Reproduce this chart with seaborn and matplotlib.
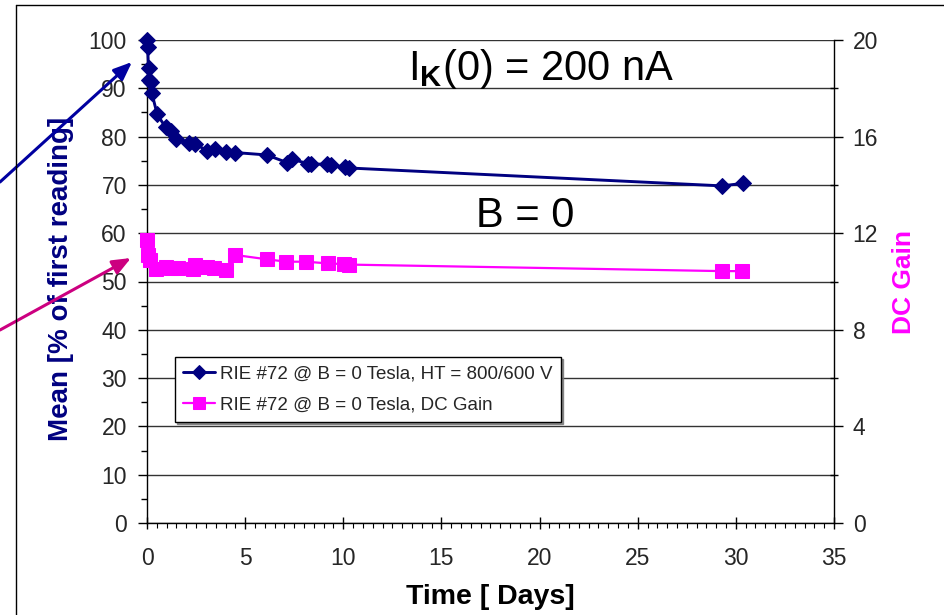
import matplotlib
matplotlib.use("Agg")
import matplotlib.pyplot as plt
import seaborn as sns
import numpy as np
from matplotlib.lines import Line2D
from matplotlib.ticker import MultipleLocator

# ---- data ----
days_mean = [0.0, 0.03, 0.08, 0.12, 0.18, 0.24, 0.52, 0.95, 1.2, 1.48, 2.15, 2.45,
             3.05, 3.45, 4.0, 4.48, 6.1, 7.15, 7.4, 8.2, 8.35, 9.18, 9.35, 10.1, 10.3,
             29.28, 30.35]
mean_pct = [100.0, 98.6, 94.1, 91.8, 91.3, 89.1, 84.6, 81.9, 81.2, 79.5, 78.7, 78.5,
            77.1, 77.4, 76.9, 76.7, 76.2, 74.6, 75.3, 74.4, 74.3, 74.3, 74.1, 73.7, 73.5,
            69.8, 70.3]

days_gain = [0.0, 0.05, 0.15, 0.45, 0.95, 1.2, 1.6, 2.35, 2.45, 3.05, 3.4, 4.0, 4.48,
             6.1, 7.1, 8.1, 9.2, 10.05, 10.3, 29.3, 30.3]
dc_gain = [11.72, 11.1, 10.9, 10.5, 10.6, 10.57, 10.55, 10.5, 10.68, 10.6, 10.57, 10.48,
           11.1, 10.92, 10.82, 10.82, 10.75, 10.72, 10.7, 10.43, 10.43]

label_mean = "RIE #72 @ B = 0 Tesla, HT = 800/600 V"
label_gain = "RIE #72 @ B = 0 Tesla, DC Gain"

x_ticks = [0, 5, 10, 15, 20, 25, 30, 35]
y_left_ticks = [0, 10, 20, 30, 40, 50, 60, 70, 80, 90, 100]
y_right_ticks = [0, 4, 8, 12, 16, 20]

NAVY = "#000080"
MAGENTA = "#FF00FF"

sns.set_style("white")
plt.rcParams["font.family"] = ["Liberation Sans", "DejaVu Sans"]
plt.rcParams["mathtext.fontset"] = "custom"
plt.rcParams["mathtext.rm"] = "Liberation Sans"
plt.rcParams["mathtext.bf"] = "Liberation Sans:bold"

W, H = 944, 615
fig = plt.figure(figsize=(W / 100, H / 100), dpi=100)
L, R, T, B = 147, 834, 40, 523
ax = fig.add_axes([L / W, 1 - B / H, (R - L) / W, (B - T) / H])
ax2 = ax.twinx()
ax.patch.set_visible(False)
ax2.patch.set_visible(False)

sns.lineplot(x=days_mean, y=mean_pct, ax=ax, color=NAVY, marker="D", markersize=8.5,
             markeredgecolor=NAVY, linewidth=2.1, estimator=None, label=label_mean,
             clip_on=False, zorder=3)
sns.lineplot(x=days_gain, y=dc_gain, ax=ax2, color=MAGENTA, marker="s", markersize=9.5,
             markeredgecolor=MAGENTA, linewidth=1.6, estimator=None, label=label_gain,
             clip_on=False, zorder=3)

ax.set_xlim(0, 35)
ax.set_ylim(0, 100)
ax2.set_ylim(0, 20)
ax.set_xticks(x_ticks)
ax.set_yticks(y_left_ticks)
ax2.set_yticks(y_right_ticks)
ax.xaxis.set_minor_locator(MultipleLocator(0.5))
ax.yaxis.set_minor_locator(MultipleLocator(5))
ax2.yaxis.set_minor_locator(MultipleLocator(2))

ax.grid(True, axis="y", which="major", color="#333333", linewidth=1.0)
ax.grid(False, axis="x")
ax2.grid(False)

for a in (ax, ax2):
    for s in a.spines.values():
        s.set_visible(False)
ax.spines["left"].set_visible(True)
ax.spines["bottom"].set_visible(True)
ax2.spines["right"].set_visible(True)
for s in (ax.spines["left"], ax.spines["bottom"], ax2.spines["right"]):
    s.set_color("black")
    s.set_linewidth(1.0)

ax.tick_params(axis="y", which="major", direction="out", length=6.5, width=1,
               color="black", labelsize=16.5, pad=8, left=True)
ax.tick_params(axis="y", which="minor", direction="out", length=4, width=1,
               color="black", left=True)
ax.tick_params(axis="x", which="major", direction="inout", length=8, width=1,
               color="black", labelsize=16.5, pad=13, bottom=True)
ax.tick_params(axis="x", which="minor", direction="out", length=3.5, width=0.8,
               color="black", bottom=True)
ax2.tick_params(axis="y", which="major", direction="out", length=6.5, width=1,
                color="black", labelsize=16.5, pad=7, right=True)
ax2.tick_params(axis="y", which="minor", direction="inout", length=6, width=1,
                color="black", right=True)

ax.set_xlabel("Time [ Days]", fontsize=20.5, fontweight="bold", color="black")
ax.xaxis.set_label_coords(0.5, -0.126)
ax.set_ylabel("Mean [% of first reading]", fontsize=20, fontweight="bold", color=NAVY)
ax.yaxis.set_label_coords(-0.106, 0.505)
ax2.set_ylabel("DC Gain", fontsize=19, fontweight="bold", color=MAGENTA)
ax2.yaxis.set_label_coords(1.084, 0.5)

# legend
if ax.get_legend() is not None:
    ax.get_legend().remove()
h1, l1 = ax.get_legend_handles_labels()
h2, l2 = ax2.get_legend_handles_labels()
leg = ax2.legend(h1 + h2, l1 + l2, loc="upper left",
                 bbox_to_anchor=(0.0408, 0.3437), borderaxespad=0,
                 fontsize=13.5, frameon=True, fancybox=False, framealpha=1,
                 edgecolor="black", handlelength=1.7, handletextpad=0.25,
                 labelspacing=0.75, borderpad=0.45, markerscale=0.85,
                 shadow={"ox": 1.5, "oy": -1.5, "color": "0.45", "alpha": 0.8})
leg.get_frame().set_linewidth(1.0)

# annotations
ax.text(0.5735, 0.917, r"$\mathrm{I}_{\mathbf{K}}$(0) = 200 nA", transform=ax.transAxes,
        ha="center", va="baseline", fontsize=30, color="black")
ax.text(0.550, 0.613, "B = 0", transform=ax.transAxes, ha="center", va="baseline",
        fontsize=30, color="black")

# arrows from the left margin
ax.annotate("", xy=(132, H - 62), xycoords="figure pixels",
            xytext=(0, H - 182), textcoords="figure pixels",
            arrowprops=dict(arrowstyle="-|>,head_length=1.1,head_width=0.45",
                            color="#0000A0", lw=2.2, shrinkA=0, shrinkB=0),
            annotation_clip=False)
ax.annotate("", xy=(131, H - 258), xycoords="figure pixels",
            xytext=(0, H - 330), textcoords="figure pixels",
            arrowprops=dict(arrowstyle="-|>,head_length=1.1,head_width=0.45",
                            color="#CC0080", lw=2.2, shrinkA=0, shrinkB=0),
            annotation_clip=False)

# outer frame (left and top edges visible)
fig.add_artist(Line2D([16 / W, 16 / W], [0, 1 - 5 / H], transform=fig.transFigure,
                      color="black", linewidth=1.0))
fig.add_artist(Line2D([16 / W, 1], [1 - 5 / H, 1 - 5 / H], transform=fig.transFigure,
                      color="black", linewidth=1.0))

fig.savefig("out.png", dpi=100, facecolor="white")
